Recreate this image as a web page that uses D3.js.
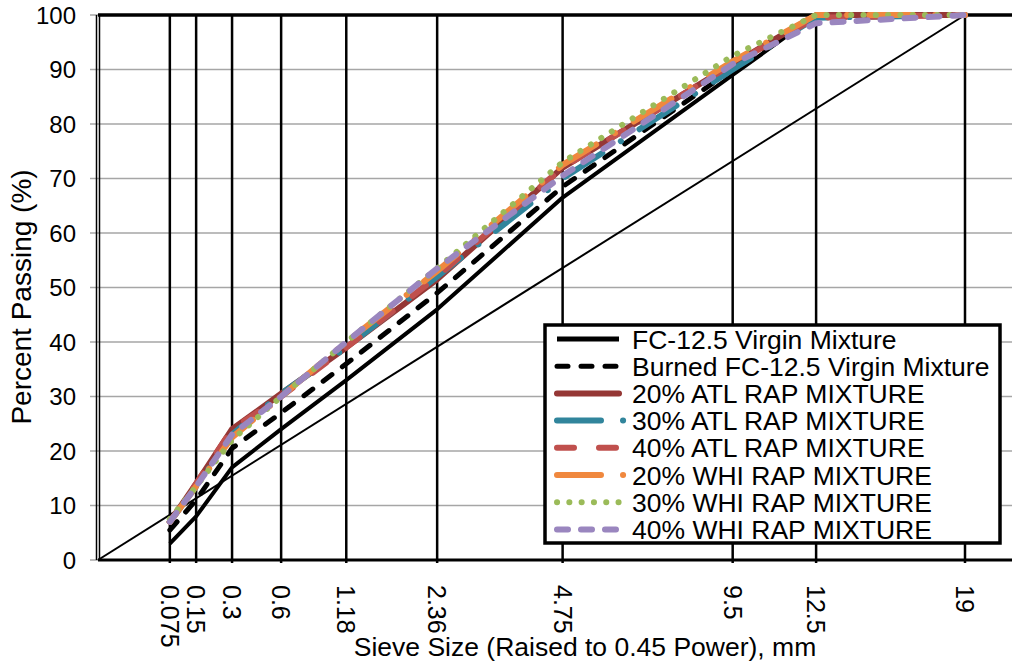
<!DOCTYPE html>
<html>
<head>
<meta charset="utf-8">
<script src="https://cdn.jsdelivr.net/npm/d3@7"></script>
<style>
  html, body { margin: 0; padding: 0; background: #fff; }
  svg { display: block; font-family: "Liberation Sans", Arial, sans-serif; }
</style>
</head>
<body>
<svg id="chart" width="1012" height="665"></svg>
<script>
// Sieve sizes (mm) and percent passing for each gradation
const sieves = [0.075, 0.15, 0.3, 0.6, 1.18, 2.36, 4.75, 9.5, 12.5, 19];
const sieveLabels = ["0.075", "0.15", "0.3", "0.6", "1.18", "2.36", "4.75", "9.5", "12.5", "19"];
const yTicks = [0, 10, 20, 30, 40, 50, 60, 70, 80, 90, 100];

const virgin       = [3, 8, 17, 24, 33, 46, 66.5, 89, 100, 100];
const burned       = [5.5, 11, 20.5, 27, 36, 49, 68.5, 90, 100, 100];
const atl20        = [7, 14, 24, 30.5, 39, 51.5, 72, 91, 100, 100];
const atl30        = [7, 13.5, 23, 30.5, 39, 52, 70, 90, 99.5, 100];
const atl40        = [7, 14, 24, 30, 39, 52, 72, 91, 99.5, 100];
const whi20        = [7, 13.5, 22.5, 30, 40, 53, 72.5, 91.5, 100, 100];
const whi30        = [7.5, 13.5, 22, 30, 40, 53.5, 73, 92.5, 100, 100];
const whi40        = [7, 13.5, 23, 30, 40, 53.5, 70.5, 91, 98.5, 100];

// Maximum density line endpoints (0 to nominal max size)
const maxDensityX = [0, 19];
const maxDensityY = [0, 100];

const seriesNames = [
  "FC-12.5 Virgin Mixture",
  "Burned FC-12.5 Virgin Mixture",
  "20% ATL RAP MIXTURE",
  "30% ATL RAP MIXTURE",
  "40% ATL RAP MIXTURE",
  "20% WHI RAP MIXTURE",
  "30% WHI RAP MIXTURE",
  "40% WHI RAP MIXTURE"
];
const seriesValues = [virgin, burned, atl20, atl30, atl40, whi20, whi30, whi40];

// Line styles per series
const styles = [
  { color: "#000000", width: 4, dash: null, cap: "butt" },
  { color: "#000000", width: 5, dash: "11,13", cap: "round" },
  { color: "#953735", width: 6, dash: null, cap: "round" },
  { color: "#31859C", width: 6, dash: "44,22,0.1,22", cap: "round" },
  { color: "#C0504D", width: 6, dash: "17,25", cap: "round" },
  { color: "#F0883E", width: 6, dash: "44,22,0.1,22", cap: "round" },
  { color: "#9BBB59", width: 6, dash: "0.1,12.2", cap: "round" },
  { color: "#9A86BF", width: 6, dash: "11,13", cap: "round" }
];

const svg = d3.select("#chart");
const plotLeft = 98, plotTop = 15, plotBottom = 560, plotRightEdge = 1012;

// 0.45 power gradation scale
const x = d3.scalePow().exponent(0.45).domain([0, 19]).range([plotLeft, 965]);
const y = d3.scaleLinear().domain([0, 100]).range([plotBottom, plotTop]);

// Horizontal gridlines
svg.append("g").selectAll("line").data(yTicks.filter(d => d > 0 && d < 100)).join("line")
  .attr("x1", plotLeft).attr("x2", plotRightEdge)
  .attr("y1", d => y(d)).attr("y2", d => y(d))
  .attr("stroke", "#a6a6a6").attr("stroke-width", 1.5);

// Y axis ticks and labels
const yAxis = svg.append("g");
yAxis.selectAll("line").data(yTicks).join("line")
  .attr("x1", 90).attr("x2", plotLeft)
  .attr("y1", d => y(d)).attr("y2", d => y(d))
  .attr("stroke", "#a6a6a6").attr("stroke-width", 1.5);
yAxis.selectAll("text").data(yTicks).join("text")
  .attr("x", 76).attr("y", d => y(d))
  .attr("dy", "0.36em")
  .attr("text-anchor", "end")
  .attr("font-size", 24)
  .text(d => d);

// Vertical sieve lines
svg.append("g").selectAll("line").data(sieves).join("line")
  .attr("x1", d => x(d)).attr("x2", d => x(d))
  .attr("y1", y(100)).attr("y2", y(0) + 3)
  .attr("stroke", "#000").attr("stroke-width", 2.5);

// Plot frame: top and bottom, double left line
svg.append("line").attr("x1", plotLeft).attr("x2", plotRightEdge).attr("y1", y(100)).attr("y2", y(100))
  .attr("stroke", "#000").attr("stroke-width", 3.5);
svg.append("line").attr("x1", plotLeft).attr("x2", plotRightEdge).attr("y1", y(0)).attr("y2", y(0))
  .attr("stroke", "#000").attr("stroke-width", 3);
svg.append("line").attr("x1", plotLeft - 1.5).attr("x2", plotLeft - 1.5).attr("y1", y(100)).attr("y2", y(0))
  .attr("stroke", "#000").attr("stroke-width", 1.5);
svg.append("line").attr("x1", plotLeft + 1.5).attr("x2", plotLeft + 1.5).attr("y1", y(100)).attr("y2", y(0))
  .attr("stroke", "#000").attr("stroke-width", 1.5);

// Maximum density line
svg.append("line")
  .attr("x1", x(maxDensityX[0])).attr("y1", y(maxDensityY[0]))
  .attr("x2", x(maxDensityX[1])).attr("y2", y(maxDensityY[1]))
  .attr("stroke", "#000").attr("stroke-width", 2);

// Gradation curves
const line = d3.line().x((d, i) => x(sieves[i])).y(d => y(d));
seriesValues.forEach((vals, i) => {
  const s = styles[i];
  svg.append("path")
    .attr("d", line(vals))
    .attr("fill", "none")
    .attr("stroke", s.color)
    .attr("stroke-width", s.width)
    .attr("stroke-linecap", s.cap)
    .attr("stroke-linejoin", "round")
    .attr("stroke-dasharray", s.dash);
});

// X tick labels, rotated to read downward
svg.append("g").selectAll("text").data(sieves).join("text")
  .attr("transform", d => `translate(${x(d)},585) rotate(90)`)
  .attr("dy", "0.36em")
  .attr("font-size", 25)
  .text((d, i) => sieveLabels[i]);

// Axis titles
svg.append("text")
  .attr("x", 585).attr("y", 656)
  .attr("text-anchor", "middle")
  .attr("font-size", 26.5)
  .text("Sieve Size (Raised to 0.45 Power), mm");
svg.append("text")
  .attr("transform", "translate(31,297) rotate(-90)")
  .attr("text-anchor", "middle")
  .attr("font-size", 28)
  .text("Percent Passing (%)");

// Legend
const lg = svg.append("g");
lg.append("rect").attr("x", 545).attr("y", 325).attr("width", 455).attr("height", 218)
  .attr("fill", "#fff").attr("stroke", "#000").attr("stroke-width", 3.5);
seriesNames.forEach((name, i) => {
  const cy = 339 + i * 27.2;
  const s = styles[i];
  lg.append("line")
    .attr("x1", 557).attr("x2", i === 3 || i === 5 ? 626 : 619).attr("y1", cy).attr("y2", cy)
    .attr("stroke", s.color)
    .attr("stroke-width", i === 0 ? 5 : s.width)
    .attr("stroke-linecap", s.cap)
    .attr("stroke-dasharray", s.dash);
  lg.append("text")
    .attr("x", 632).attr("y", cy).attr("dy", "0.36em")
    .attr("font-size", 26.5)
    .text(name);
});
</script>
</body>
</html>
